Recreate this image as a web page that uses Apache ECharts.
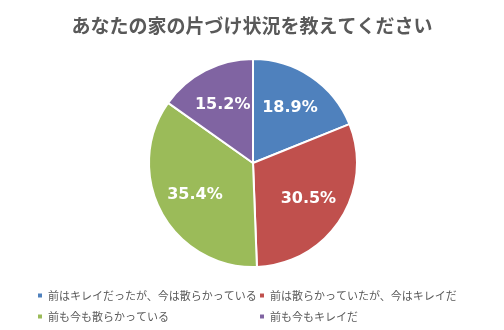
<!DOCTYPE html>
<html>
<head>
<meta charset="utf-8">
<script src="https://cdn.jsdelivr.net/npm/echarts@6/dist/echarts.min.js"></script>
<style>
  html, body { margin: 0; padding: 0; background: #fff; }
  #chart { width: 504px; height: 330px; }
</style>
</head>
<body>
<div id="chart"></div>
<script>
// Survey: current tidiness of the home
const categories = [
  '前はキレイだったが、今は散らかっている',
  '前は散らかっていたが、今はキレイだ',
  '前も今も散らかっている',
  '前も今もキレイだ'
];
const shares = [18.9, 30.5, 35.4, 15.2];
const sliceColors = ['#4F81BD', '#C0504D', '#9BBB59', '#8064A2'];

const font = '"Noto Sans CJK JP", "Noto Sans", sans-serif';
const pieData = categories.map((name, i) => ({ name, value: shares[i] }));

const legendBase = {
  orient: 'vertical',
  top: 285,
  itemGap: 10,
  icon: 'rect',
  itemWidth: 6,
  itemHeight: 6,
  textStyle: { color: '#595959', fontSize: 11, fontFamily: font }
};

const chart = echarts.init(document.getElementById('chart'), null, { renderer: 'canvas' });
chart.setOption({
  backgroundColor: '#ffffff',
  animation: false,
  color: sliceColors,
  title: {
    text: 'あなたの家の片づけ状況を教えてください',
    left: 'center',
    top: 11,
    textStyle: { color: '#595959', fontSize: 19, fontWeight: 'bold', fontFamily: font }
  },
  legend: [
    Object.assign({ left: 31, data: [categories[0], categories[2]] }, legendBase),
    Object.assign({ left: 253, data: [categories[1], categories[3]] }, legendBase)
  ],
  series: [
    {
      type: 'pie',
      center: [253, 163],
      radius: [0, 104],
      startAngle: 90,
      clockwise: true,
      data: pieData,
      itemStyle: { borderColor: '#ffffff', borderWidth: 2 },
      label: { show: false },
      labelLine: { show: false },
      emphasis: { disabled: true }
    },
    {
      // transparent copy that only places the percentage labels
      type: 'pie',
      center: [253, 163],
      radius: [0, 126],
      startAngle: 90,
      clockwise: true,
      silent: true,
      data: pieData,
      itemStyle: { color: 'transparent' },
      label: {
        show: true,
        position: 'inside',
        formatter: p => p.value.toFixed(1) + '%',
        color: '#ffffff',
        fontSize: 16,
        fontWeight: 'bold',
        fontFamily: '"DejaVu Sans", sans-serif'
      },
      labelLine: { show: false },
      emphasis: { disabled: true }
    }
  ]
});
</script>
</body>
</html>
